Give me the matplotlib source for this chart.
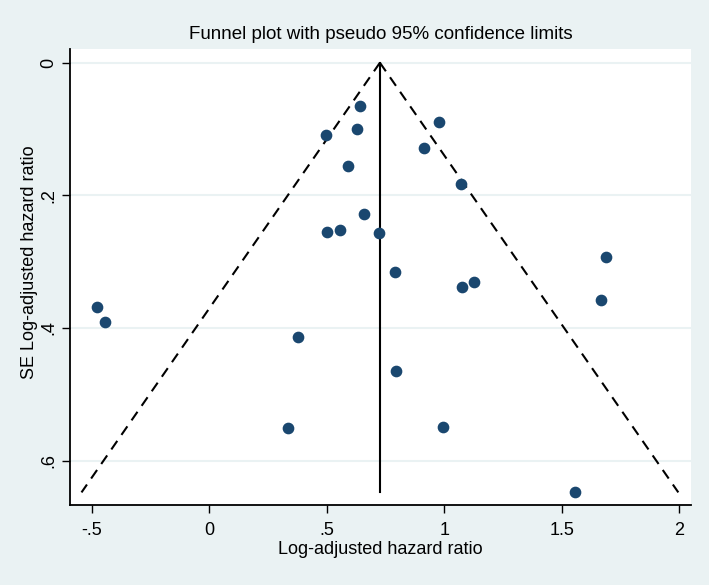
import numpy as np
import matplotlib
matplotlib.use("Agg")
import matplotlib.pyplot as plt

plt.rcParams['font.family'] = ['Liberation Sans', 'DejaVu Sans']

# log-adjusted hazard ratio and its standard error
log_hr = [0.643, 0.497, 0.627, 0.589, 0.979, 0.912, 1.072, 0.658, 0.502, 0.555,
          0.723, 1.688, 0.790, 1.075, 1.125, 1.668, -0.478, -0.445, 0.379, 0.794,
          0.336, 0.994, 1.557]
se_log_hr = [0.065, 0.1095, 0.0995, 0.156, 0.090, 0.129, 0.183, 0.228, 0.255, 0.252,
             0.257, 0.293, 0.316, 0.338, 0.330, 0.358, 0.368, 0.391, 0.4135, 0.465,
             0.551, 0.550, 0.648]
pooled = 0.726
xticks = [-0.5, 0, 0.5, 1, 1.5, 2]
xticklabels = ["-.5", "0", ".5", "1", "1.5", "2"]
yticks = [0, 0.2, 0.4, 0.6]
yticklabels = ["0", ".2", ".4", ".6"]

bg = "#EAF2F3"
navy = "#1A476F"

fig = plt.figure(figsize=(7.09, 5.85), dpi=100, facecolor=bg)
ax = fig.add_axes([70/709, 1-505/585, (691-70)/709, (505-49)/585])
ax.set_facecolor("white")

# pseudo 95% limits
se_max = max(se_log_hr)
se_line = np.array([0, se_max])
ax.plot(pooled - 1.96*se_line, se_line, color="black", lw=1.5, ls=(0, (5, 3.5)))
ax.plot(pooled + 1.96*se_line, se_line, color="black", lw=1.5, ls=(0, (5, 3.5)))
ax.plot([pooled, pooled], [0, se_max], color="black", lw=1.5)

ax.plot(log_hr, se_log_hr, "o", color=navy, ms=7.4, mec=navy, zorder=3)

ax.set_xlim(-0.593, 2.05)
ax.set_ylim(0.667, -0.0207)
ax.set_xticks(xticks)
ax.set_xticklabels(xticklabels)
ax.set_yticks(yticks)
ax.set_yticklabels(yticklabels, rotation=90, va="center")
ax.grid(axis="y", color=bg, lw=1.5)
ax.set_axisbelow(True)

for s in ["top", "right"]:
    ax.spines[s].set_visible(False)
for s in ["left", "bottom"]:
    ax.spines[s].set_linewidth(1.3)
ax.tick_params(direction="out", length=6, width=1.0, labelsize=13, pad=6)
ax.tick_params(axis="y", pad=3)

ax.set_xlabel("Log-adjusted hazard ratio", fontsize=13, labelpad=2)
ax.set_ylabel("SE Log-adjusted hazard ratio", fontsize=13)
ax.yaxis.set_label_coords(-0.051, 0.533)
ax.set_title("Funnel plot with pseudo 95% confidence limits", fontsize=13.5, pad=7)

fig.savefig("out.png", dpi=100, facecolor=bg)
